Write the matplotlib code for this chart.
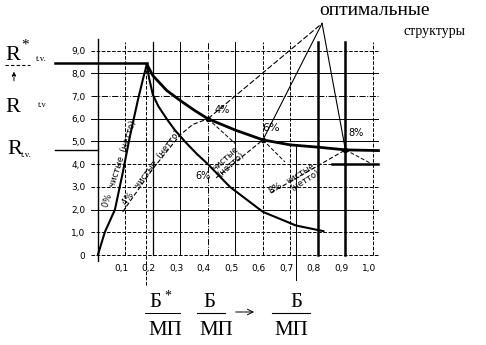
import numpy as np
import matplotlib.pyplot as plt
from matplotlib.transforms import ScaledTranslation

# ---- data -------------------------------------------------------------------
# rising branch (0% чистые) up to the peak
rise_x = [0.0, 0.025, 0.062, 0.09, 0.116, 0.145, 0.165, 0.178]
rise_y = [0.0, 1.0, 2.0, 3.6, 5.2, 6.8, 7.8, 8.4]
# steep falling branch
fall_x = [0.178, 0.186, 0.2, 0.22, 0.25, 0.28, 0.32, 0.36, 0.4, 0.48, 0.6, 0.72, 0.82]
fall_y = [8.4, 7.8, 7.05, 6.55, 6.0, 5.5, 4.95, 4.45, 4.0, 3.0, 1.9, 1.3, 1.05]
# upper falling branch (envelope)
env_x = [0.178, 0.2, 0.25, 0.3, 0.35, 0.4, 0.5, 0.6, 0.7, 0.8, 0.9, 1.02]
env_y = [8.4, 7.9, 7.25, 6.8, 6.38, 6.0, 5.5, 5.07, 4.85, 4.75, 4.63, 4.6]

# optimum points for 4%, 6%, 8%
opt_x = [0.4, 0.6, 0.9]
opt_y = [6.0, 5.07, 4.63]
opt_pct = ['4%', '6%', '8%']
apex_x, apex_y = 0.815, 10.2

# dashed "чистые (нетто)" lines leading to the optima
l4_x = [0.09, 0.2, 0.3, 0.345, 0.4]
l4_y = [1.9, 3.8, 5.3, 5.75, 6.0]
l6_x = [0.43, 0.6]
l6_y = [3.4, 5.07]
l8_x = [0.63, 0.9]
l8_y = [2.75, 4.63]
stub_x = [0.5, 0.68, 0.99]
stub_y = [4.9, 4.1, 4.05]

R_star = 8.45
R_opt = 4.63

xticks = [0.1, 0.2, 0.3, 0.4, 0.5, 0.6, 0.7, 0.8, 0.9, 1.0]
xlabels = ['0,1', '0,2', '0,3', '0,4', '0,5', '0,6', '0,7', '0,8', '0,9', '1,0']
yticks = [0, 1, 2, 3, 4, 5, 6, 7, 8, 9]
ylabels = ['0', '1,0', '2,0', '3,0', '4,0', '5,0', '6,0', '7,0', '8,0', '9,0']
hgrid_style = ['--', '--', '-', '--', '--', '-', '-', '-.', '-', '--']
vgrid_style = ['--', '-', '-', '-.', '-', '--', '--', '-', '-', '--']
vgrid_lw = [0.7, 0.9, 0.7, 0.7, 0.7, 0.7, 0.7, 1.8, 1.8, 0.7]

serif = 'Liberation Serif'

fig = plt.figure(figsize=(4.86, 3.45), dpi=100)
ax = fig.add_axes([80 / 486, 83 / 345, 310 / 486, 232 / 345])
ax.set_xlim(-0.065, 1.062)
ax.set_ylim(-0.308, 9.91)
for s in ax.spines.values():
    s.set_visible(False)

# grid
for v, st in zip(yticks, hgrid_style):
    ax.plot([-0.025, 1.02], [v, v], color='k', lw=0.7, ls=st, clip_on=False)
for v, st, w in zip(xticks, vgrid_style, vgrid_lw):
    ax.plot([v, v], [0, 9.4], color='k', lw=w, ls=st, clip_on=False)
ax.plot([0, 0], [-0.3, 9.5], color='k', lw=1.0)
ax.plot([0.85, 1.02], [4.0, 4.0], color='k', lw=1.8)

# ticks
ax.set_xticks(xticks)
ax.set_xticklabels(xlabels, fontsize=6.5)
ax.set_yticks(yticks)
ax.set_yticklabels(ylabels, fontsize=6.5)
ax.tick_params(axis='y', length=0, pad=-4)
ax.tick_params(axis='x', length=0, pad=1.5)
shift = ScaledTranslation(-4 / 100, 0, fig.dpi_scale_trans)
for lbl in ax.get_xticklabels():
    lbl.set_transform(lbl.get_transform() + shift)

# main curves
ax.plot(rise_x, rise_y, color='k', lw=1.5)
ax.plot(fall_x, fall_y, color='k', lw=1.5)
ax.plot(env_x, env_y, color='k', lw=2.0)
ax.plot([-0.156, rise_x[-1]], [R_star, R_star], color='k', lw=1.8, clip_on=False)
ax.plot([-0.156, 0], [R_opt, R_opt], color='k', lw=1.0, clip_on=False)
ax.plot([0.175, 0.175], [-1.3, 8.3], color='k', lw=0.7, ls='--', clip_on=False)
ax.plot([0.72, 0.72], [-1.1, 4.9], color='k', lw=0.7, clip_on=False)

# lines to optima
ax.plot(l4_x, l4_y, color='k', lw=0.8, ls=(0, (4, 2)))
ax.plot(l6_x, l6_y, color='k', lw=0.8, ls=(0, (4, 2)))
ax.plot(l8_x, l8_y, color='k', lw=0.8, ls=(0, (4, 2)))
for x0, y0, x1, y1 in zip(opt_x, opt_y, stub_x, stub_y):
    ax.plot([x0, x1], [y0, y1], color='k', lw=0.7, ls=(0, (4, 2)))
for i, (x0, y0) in enumerate(zip(opt_x, opt_y)):
    ax.plot([x0, apex_x], [y0, apex_y], color='k', lw=0.8,
            ls=(0, (5, 2)) if i == 0 else '-', clip_on=False)
ax.plot(opt_x, opt_y, 'o', color='k', ms=3)

# percent labels
ax.text(0.451, 6.39, opt_pct[0], fontsize=7, ha='center', va='center')
ax.text(0.629, 5.6, opt_pct[1], fontsize=8, ha='center', va='center')
ax.text(0.938, 5.37, opt_pct[2], fontsize=7, ha='center', va='center')
ax.text(0.08, 4.0, '0%   чистые  (нетто)', fontsize=6, rotation=72,
        ha='center', va='center')
ax.text(0.195, 3.85, '4%   чистые  (нетто)', fontsize=6, rotation=53,
        ha='center', va='center')
ax.text(0.382, 3.48, '6%', fontsize=7, ha='center', va='center')
ax.text(0.475, 4.1, 'чистые\n(нетто)', fontsize=6, rotation=42,
        ha='center', va='center', linespacing=0.9)
ax.text(0.647, 2.94, '8%', fontsize=6.5, rotation=30, ha='center', va='center')
ax.text(0.745, 3.44, 'чистые\n(нетто)', fontsize=6, rotation=32,
        ha='center', va='center', linespacing=0.9)

# title text at the apex
ax.text(1.007, 10.55, 'оптимальные', fontsize=14, family=serif, ha='center',
        va='baseline')
ax.text(1.225, 9.69, 'структуры', fontsize=10, family=serif, ha='center',
        va='baseline')

# left labels R*, R, R
ax.text(-0.338, 8.6, 'R', fontsize=16, family=serif, va='baseline')
ax.text(-0.28, 9.1, '*', fontsize=11, family=serif, va='baseline')
ax.text(-0.225, 8.55, 't.v.', fontsize=6.5, family=serif, va='baseline')
ax.plot([-0.338, -0.247], [8.37, 8.37], color='k', lw=0.8, ls=(0, (3, 2)),
        clip_on=False)
ax.annotate('', xy=(-0.305, 8.2), xytext=(-0.305, 7.55),
            arrowprops=dict(arrowstyle='-|>', color='k', lw=0.7, ls='--',
                            mutation_scale=6), annotation_clip=False)
ax.text(-0.338, 6.3, 'R', fontsize=16, family=serif, va='baseline')
ax.text(-0.218, 6.5, 't.v', fontsize=6, family=serif, va='baseline')
ax.text(-0.33, 4.45, 'R', fontsize=16, family=serif, va='baseline')
ax.text(-0.28, 4.3, 't.v.', fontsize=6.5, family=serif, va='baseline')

# bottom fractions Б/МП
fr = dict(fontsize=15, family=serif, ha='center', va='baseline')
ax.text(0.21, -2.29, 'Б', **fr)
ax.text(0.255, -1.95, '*', fontsize=10, family=serif, ha='center', va='baseline')
ax.plot([0.171, 0.298], [-2.555, -2.555], color='k', lw=0.7, clip_on=False)
ax.text(0.244, -3.52, 'МП', **fr)
ax.text(0.405, -2.29, 'Б', **fr)
ax.plot([0.36, 0.462], [-2.555, -2.555], color='k', lw=0.8, clip_on=False)
ax.text(0.429, -3.52, 'МП', **fr)
ax.annotate('', xy=(0.578, -2.51), xytext=(0.491, -2.51),
            arrowprops=dict(arrowstyle='->', color='k', lw=0.7),
            annotation_clip=False)
ax.text(0.72, -2.29, 'Б', **fr)
ax.plot([0.633, 0.771], [-2.555, -2.555], color='k', lw=0.8, clip_on=False)
ax.text(0.702, -3.52, 'МП', **fr)

fig.savefig('out.png', dpi=100, facecolor='white')
